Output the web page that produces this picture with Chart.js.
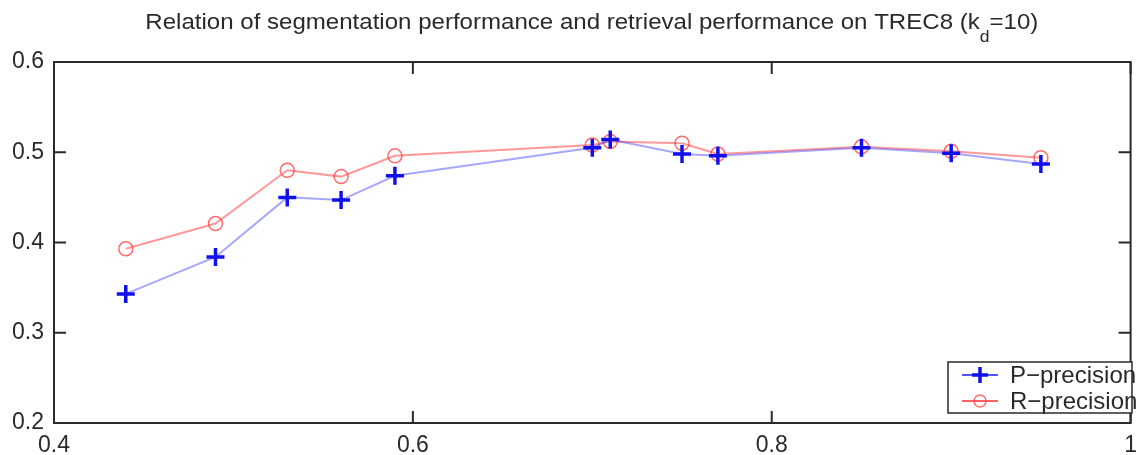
<!DOCTYPE html>
<html lang="en">
<head>
<meta charset="UTF-8">
<title>Segmentation vs retrieval performance on TREC8</title>
<script src="https://cdn.jsdelivr.net/npm/chart.js"></script>
<style>
  html, body { margin: 0; padding: 0; background: #fff; }
  #wrap { position: relative; width: 1146px; height: 455px; }
</style>
</head>
<body>
<div id="wrap"><canvas id="chart"></canvas></div>
<script>
// data
const segPerf = [0.44, 0.49, 0.53, 0.56, 0.59, 0.70, 0.71, 0.75, 0.77, 0.85, 0.90, 0.95];
const pPrecision = [0.343, 0.384, 0.450, 0.447, 0.474, 0.505, 0.514, 0.498, 0.496, 0.505, 0.499, 0.487];
const rPrecision = [0.393, 0.421, 0.480, 0.473, 0.496, 0.508, 0.512, 0.510, 0.498, 0.506, 0.501, 0.494];
const seriesNames = ['P\u2212precision', 'R\u2212precision'];
const xTicks = [0.4, 0.6, 0.8, 1];
const yTicks = [0.2, 0.3, 0.4, 0.5, 0.6];

const FONT = "'Liberation Sans', Arial, sans-serif";
const INK = '#2a2a2a';

const toPoints = ys => ys.map((y, i) => ({ x: segPerf[i], y }));

// title with the subscript d, drawn above the plot (the source is a bit stretched)
const titlePlugin = {
  id: 'matlabTitle',
  afterDraw(chart) {
    const { ctx, chartArea: a } = chart;
    const main = 'Relation of segmentation performance and retrieval performance on TREC8 (k';
    const tail = '=10)';
    ctx.save();
    ctx.fillStyle = INK;
    ctx.textBaseline = 'alphabetic';
    ctx.font = '22px ' + FONT;
    const w1 = ctx.measureText(main).width;
    const w3 = ctx.measureText(tail).width;
    ctx.font = '16px ' + FONT;
    const w2 = ctx.measureText('d').width;
    const total = w1 + w2 + w3;
    const sx = 893 / total;
    const cx = (a.left + a.right) / 2 - 0.5;
    ctx.translate(cx - total * sx / 2, 0);
    ctx.scale(sx, 1);
    let x = 0;
    const y = 29;
    ctx.font = '22px ' + FONT;
    ctx.fillText(main, x, y);
    x += w1;
    ctx.font = '16px ' + FONT;
    ctx.fillText('d', x, y + 13);
    x += w2;
    ctx.font = '22px ' + FONT;
    ctx.fillText(tail, x, y);
    ctx.restore();
  }
};

// box around the axes with inward ticks, MATLAB style
const boxPlugin = {
  id: 'boxTicks',
  afterDatasetsDraw(chart) {
    const { ctx, chartArea: a, scales } = chart;
    const len = 12;
    ctx.save();
    ctx.strokeStyle = INK;
    ctx.lineWidth = 2;
    ctx.strokeRect(a.left, a.top, a.right - a.left, a.bottom - a.top);
    ctx.beginPath();
    xTicks.forEach(v => {
      const px = scales.x.getPixelForValue(v);
      ctx.moveTo(px, a.bottom); ctx.lineTo(px, a.bottom - len);
      ctx.moveTo(px, a.top); ctx.lineTo(px, a.top + len);
    });
    yTicks.forEach(v => {
      const py = scales.y.getPixelForValue(v);
      ctx.moveTo(a.left, py); ctx.lineTo(a.left + len, py);
      ctx.moveTo(a.right, py); ctx.lineTo(a.right - len, py);
    });
    ctx.stroke();
    ctx.restore();
  }
};

// legend box in the lower right corner of the axes
const legendPlugin = {
  id: 'cornerLegend',
  afterDraw(chart) {
    const { ctx } = chart;
    const bx = 948, by = 362, bw = 184, bh = 51;
    ctx.save();
    ctx.fillStyle = '#fff';
    ctx.fillRect(bx, by, bw, bh);
    ctx.strokeStyle = INK;
    ctx.lineWidth = 1.5;
    ctx.strokeRect(bx, by, bw, bh);
    chart.data.datasets.forEach((ds, i) => {
      const y = by + 13 + i * 26;
      ctx.strokeStyle = ds.legendColor;
      ctx.lineWidth = 1.5;
      ctx.beginPath(); ctx.moveTo(962, y); ctx.lineTo(998, y); ctx.stroke();
      ctx.strokeStyle = ds.pointBorderColor;
      ctx.lineWidth = ds.pointBorderWidth;
      ctx.beginPath();
      if (ds.pointStyle === 'cross') {
        ctx.moveTo(980 - 8, y); ctx.lineTo(980 + 8, y);
        ctx.moveTo(980, y - 8); ctx.lineTo(980, y + 8);
      } else {
        ctx.arc(980, y, 6, 0, Math.PI * 2);
      }
      ctx.stroke();
      ctx.fillStyle = INK;
      ctx.font = '24px ' + FONT;
      ctx.textBaseline = 'middle';
      ctx.fillText(ds.label, 1010, y + 1);
    });
    ctx.restore();
  }
};

new Chart(document.getElementById('chart'), {
  type: 'line',
  data: {
    datasets: [
      {
        label: seriesNames[0],
        data: toPoints(pPrecision),
        borderColor: 'rgba(60, 60, 255, 0.45)',
        borderWidth: 2,
        legendColor: '#1a1aff',
        pointStyle: 'cross',
        pointRadius: 9,
        pointBorderColor: '#1010ee',
        pointBorderWidth: 3.5,
        tension: 0
      },
      {
        label: seriesNames[1],
        data: toPoints(rPrecision),
        borderColor: 'rgba(255, 70, 70, 0.55)',
        borderWidth: 2,
        legendColor: '#ff3030',
        pointStyle: 'circle',
        pointRadius: 7,
        pointBackgroundColor: 'rgba(0,0,0,0)',
        pointBorderColor: 'rgba(255, 60, 60, 0.75)',
        pointBorderWidth: 1.5,
        tension: 0
      }
    ]
  },
  options: {
    responsive: true,
    maintainAspectRatio: false,
    animation: false,
    layout: { padding: { top: 62, right: 6, left: 0, bottom: 0 } },
    plugins: { legend: { display: false }, tooltip: { enabled: false } },
    scales: {
      x: {
        type: 'linear',
        min: 0.4, max: 1,
        afterBuildTicks: s => { s.ticks = xTicks.map(v => ({ value: v })); },
        afterFit: s => { s.height = 32; },
        grid: { display: false, drawTicks: false },
        border: { display: false },
        ticks: {
          color: INK, padding: 9,
          font: { family: FONT, size: 23 },
          maxRotation: 0, autoSkip: false,
          callback: v => String(+v.toFixed(1))
        }
      },
      y: {
        min: 0.2, max: 0.6,
        afterBuildTicks: s => { s.ticks = yTicks.map(v => ({ value: v })); },
        afterFit: s => { s.width = 54; },
        grid: { display: false, drawTicks: false },
        border: { display: false },
        ticks: {
          color: INK, padding: 10,
          font: { family: FONT, size: 23 },
          callback: v => String(+v.toFixed(1))
        }
      }
    }
  },
  plugins: [titlePlugin, boxPlugin, legendPlugin]
});
</script>
</body>
</html>
